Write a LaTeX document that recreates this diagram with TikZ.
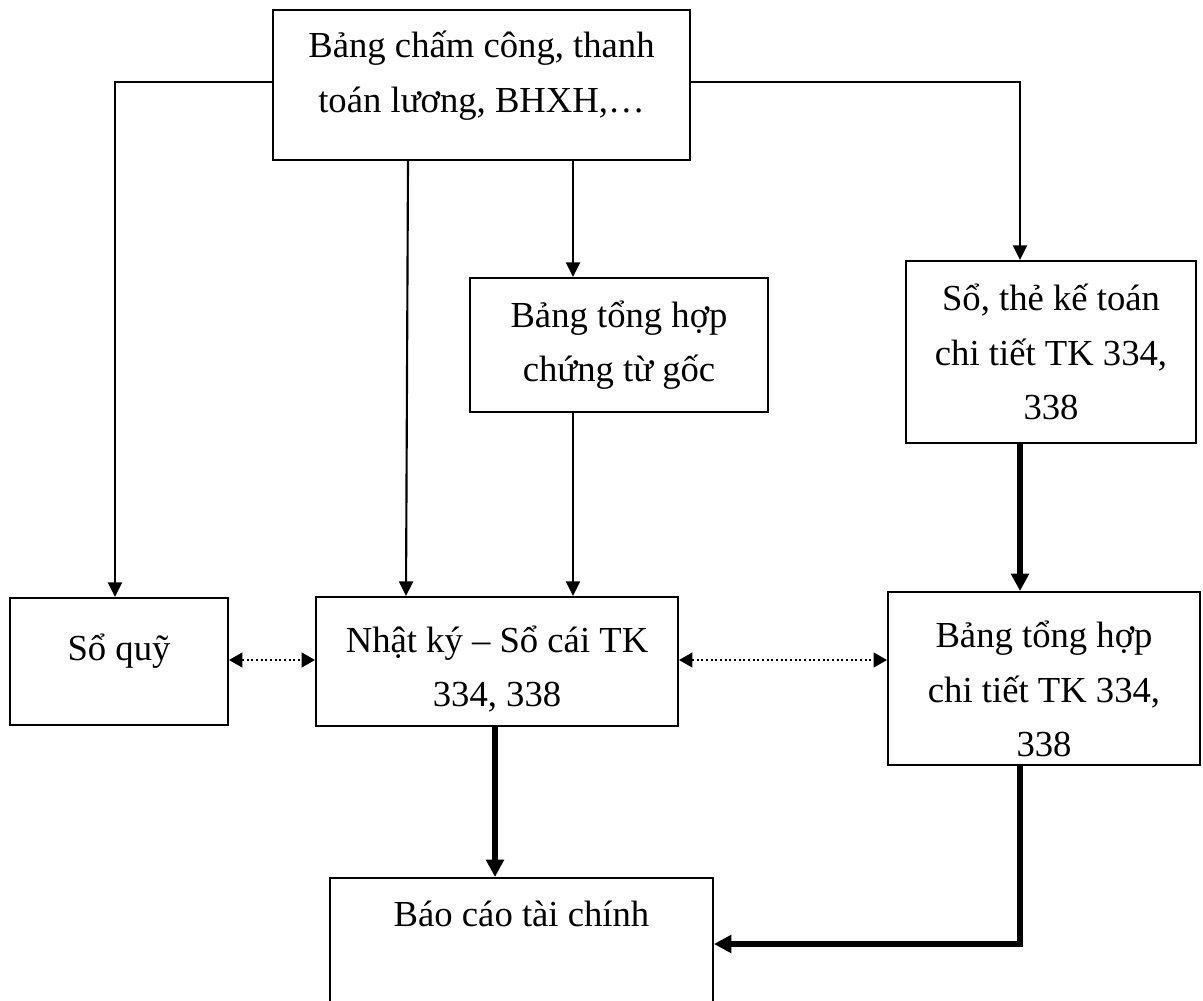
\documentclass[tikz,border=0pt]{standalone}
\usepackage{fontspec}
\setmainfont{Liberation Serif}
\usetikzlibrary{arrows.meta}
\begin{document}
\begin{tikzpicture}[x=0.75pt,y=-0.75pt,
  box/.style={draw, line width=1.5pt, inner sep=0pt, align=center,
    font=\fontsize{27.5}{41}\selectfont},
  thin/.style={line width=1.6pt, -{Triangle[length=11pt,width=10.5pt]}},
  thick/.style={line width=4pt, -{Triangle[length=13pt,width=13pt]}},
  dots/.style={line width=1.5pt, dotted, {Triangle[length=10pt,width=11pt]}-{Triangle[length=10pt,width=11pt]}}]
\useasboundingbox (0,0) rectangle (1203,1000);
\fill[white] (0,0) rectangle (1203,1000);

\node[box, minimum width=417*0.75pt, minimum height=150*0.75pt] (top) at (481.5,85)
  {Bảng chấm công, thanh\\toán lương, BHXH,…\rule[-20pt]{0pt}{20pt}};
\node[box, minimum width=218*0.75pt, minimum height=127*0.75pt] (quy) at (119,661.5)
  {Sổ quỹ\\[-20pt]\mbox{}};
\node[box, minimum width=298*0.75pt, minimum height=134*0.75pt] (ctg) at (619,345)
  {Bảng tổng hợp\\chứng từ gốc};
\node[box, minimum width=362*0.75pt, minimum height=129*0.75pt] (nk) at (497,661.5)
  {\rule{0pt}{31pt}Nhật ký – Sổ cái TK\\334, 338};
\node[box, minimum width=290*0.75pt, minimum height=182*0.75pt] (the) at (1051,352)
  {Sổ, thẻ kế toán\\chi tiết TK 334,\\338};
\node[box, minimum width=312*0.75pt, minimum height=173*0.75pt] (cth) at (1044,678.5)
  {\rule{0pt}{36pt}Bảng tổng hợp\\chi tiết TK 334,\\338};
\node[box, minimum width=383*0.75pt, minimum height=126*0.75pt] (bc) at (521.5,941)
  {Báo cáo tài chính\\\mbox{}};

\draw[thin] (top.west |- 0,82) -| (quy.north -| 115,0);
\draw[thin] (top.south -| 408,0) -- (nk.north -| 406,0);
\draw[thin] (top.south -| 573,0) -- (ctg.north -| 573,0);
\draw[thin] (ctg.south -| 573,0) -- (nk.north -| 573,0);
\draw[thin] (top.east |- 0,82) -| (the.north -| 1020,0);
\draw[thick] (the.south -| 1020,0) -- (cth.north -| 1020,0);
\draw[thick] (nk.south -| 495,0) -- (bc.north -| 495,0);
\draw[thick] (cth.south -| 1020,0) |- (bc.east |- 0,944);
\draw[dots] (quy.east |- 0,660) -- (nk.west |- 0,660);
\draw[dots] (nk.east |- 0,660) -- (cth.west |- 0,660);
\end{tikzpicture}
\end{document}
